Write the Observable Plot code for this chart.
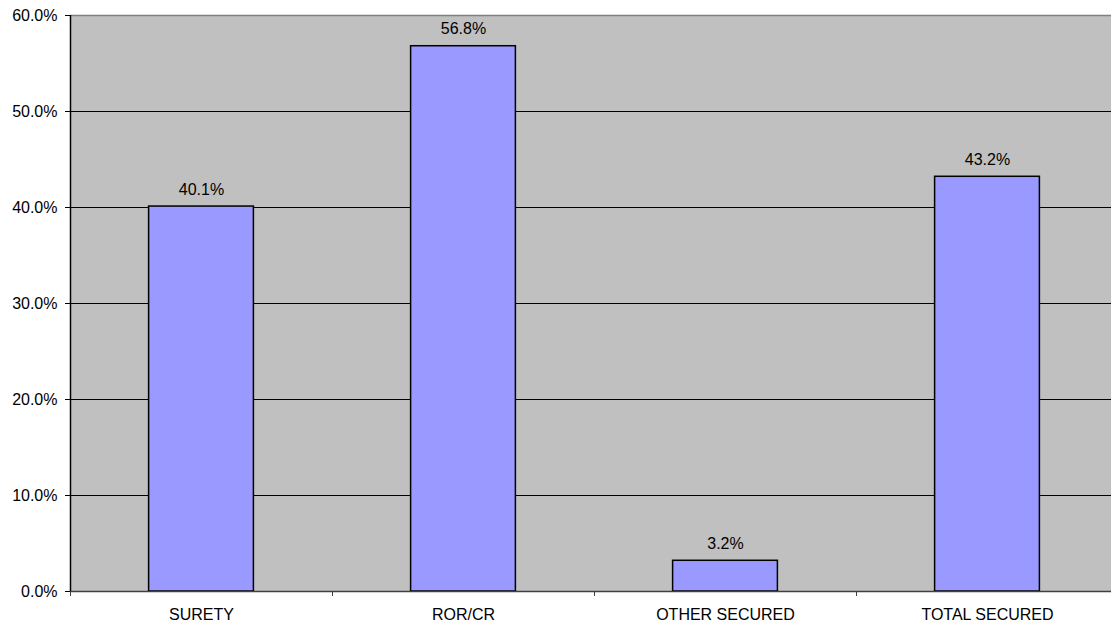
<!DOCTYPE html>
<html>
<head>
<meta charset="utf-8">
<script src="https://cdn.jsdelivr.net/npm/d3@7"></script>
<script src="https://cdn.jsdelivr.net/npm/@observablehq/plot@0.6"></script>
<style>
  html, body { margin: 0; padding: 0; background: #ffffff; }
  svg { display: block; }
</style>
</head>
<body>
<div id="chart"></div>
<script>
// Share of cases by release type
const categories = ["SURETY", "ROR/CR", "OTHER SECURED", "TOTAL SECURED"];
const values = [40.1, 56.8, 3.2, 43.2];
const yTicks = [0, 10, 20, 30, 40, 50, 60];

const rows = categories.map((category, i) => ({ category, index: i, value: values[i] }));
const pct = v => v.toFixed(1) + "%";

const chart = Plot.plot({
  width: 1111,
  height: 626,
  marginLeft: 70,
  marginRight: 0,
  marginTop: 15,
  marginBottom: 35,
  style: {
    fontFamily: "'Liberation Sans', Arial, sans-serif",
    fontSize: "16px",
    background: "#ffffff",
    color: "#000000",
    overflow: "hidden"
  },
  // each category occupies one unit; the last band runs slightly past the edge
  x: { type: "linear", domain: [0, categories.length], range: [70, 1118], axis: null },
  y: { domain: [0, 60], axis: null },
  marks: [
    Plot.frame({ fill: "#c0c0c0", stroke: null }),
    Plot.ruleY(yTicks.slice(1, -1), { stroke: "#000000", strokeWidth: 1 }),
    Plot.ruleY([60], { stroke: "#808080", strokeWidth: 1.5 }),
    Plot.rectY(rows, {
      x1: d => d.index + 0.3,
      x2: d => d.index + 0.7,
      y: "value",
      fill: "#9999ff",
      stroke: "#000000",
      strokeWidth: 1.5
    }),
    Plot.text(rows, {
      x: d => d.index + 0.5,
      y: "value",
      text: d => pct(d.value),
      dy: -17,
      fontSize: 16,
      fill: "#000000"
    }),
    Plot.ruleY([0], { stroke: "#404040", strokeWidth: 1.5 }),
    Plot.ruleX([0], { stroke: "#000000", strokeWidth: 1.5 }),
    Plot.axisY({
      ticks: yTicks,
      tickFormat: pct,
      tickSize: 5,
      tickPadding: 8,
      fontSize: 16,
      label: null,
      stroke: "#000000",
      fill: "#000000"
    }),
    // boundary ticks between categories
    Plot.axisX({
      ticks: d3.range(0, categories.length + 1),
      tickFormat: () => "",
      tickSize: 5,
      label: null,
      stroke: "#404040"
    }),
    // category labels centred under each bar
    Plot.axisX({
      ticks: categories.map((_, i) => i + 0.5),
      tickFormat: t => categories[Math.floor(t)],
      tickSize: 0,
      tickPadding: 17,
      fontSize: 16,
      label: null,
      fill: "#000000"
    })
  ]
});

document.getElementById("chart").appendChild(chart);
</script>
</body>
</html>
